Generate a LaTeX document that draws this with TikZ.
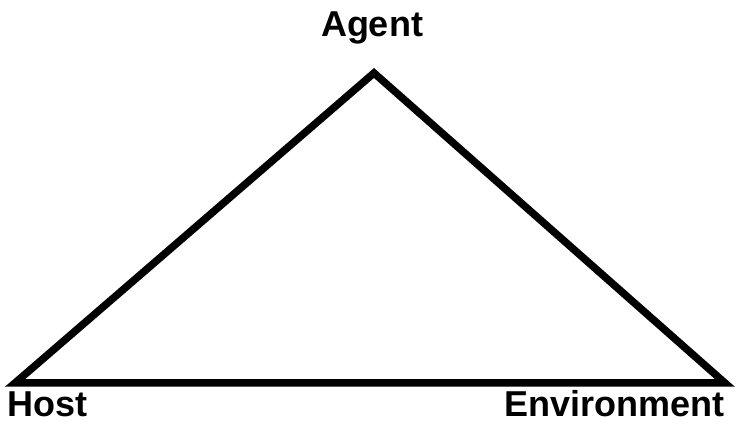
\documentclass[tikz,border=0pt]{standalone}
\usepackage{fontspec}
\setmainfont{Liberation Sans}
\begin{document}
\begin{tikzpicture}[x=1pt,y=-1pt,
  lbl/.style={inner sep=0pt,font=\fontsize{36}{40}\selectfont\bfseries},
  edge/.style={line width=7.5pt,line join=miter,black}]
\useasboundingbox (0,0) rectangle (739,435);
\coordinate (A) at (374,73);
\coordinate (H) at (15,383);
\coordinate (E) at (725,383);
\draw[edge] (A) -- (H) -- (E) -- cycle;
\node[lbl,anchor=base] (agent) at (372,37) {Agent};
\node[lbl,anchor=base west] (host) at (7,417) {Host};
\node[lbl,anchor=base east] (env) at (725,417) {Environment};
\end{tikzpicture}
\end{document}
